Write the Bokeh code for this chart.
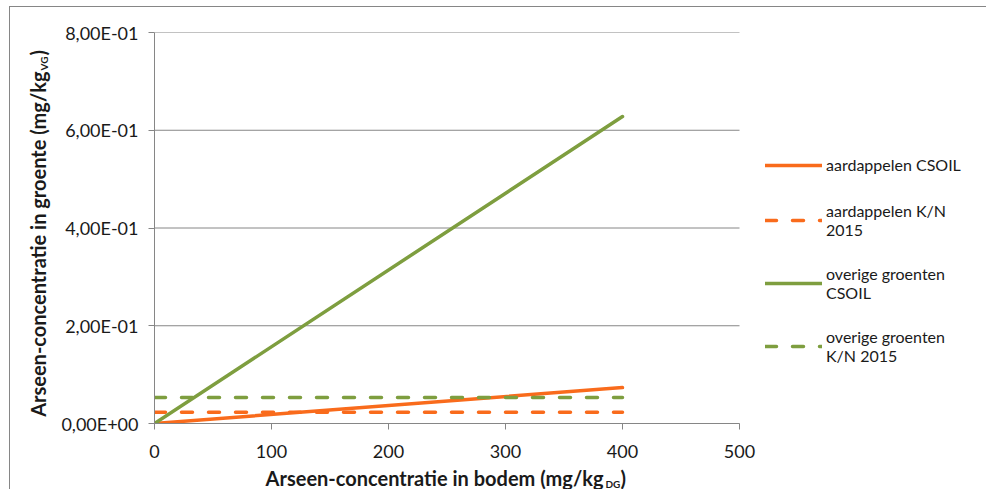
import math
from bokeh.plotting import figure
from bokeh.models import (Range1d, FixedTicker, CustomJSTickFormatter, Legend,
                          LegendItem, Title)
from bokeh.embed import file_html
from bokeh.resources import INLINE

# ---- data ----
bodem = [0, 400]
aardappelen_csoil = [0.0, 0.0735]
aardappelen_kn2015 = [0.023, 0.023]
overige_csoil = [0.0, 0.628]
overige_kn2015 = [0.053, 0.053]

x_ticks = [0, 100, 200, 300, 400, 500]
y_ticks = [0.0, 0.2, 0.4, 0.6, 0.8]

labels = ["aardappelen CSOIL", "aardappelen K/N\n2015",
          "overige groenten\nCSOIL", "overige groenten\nK/N 2015"]

ORANGE = "#F96B1C"
GREEN = "#7E9E3F"
GRID = "#868686"
FONT = "Lato"

# layout (pixels)
W, H = 977, 483
LEFT, TOP, BOTTOM = 144, 25, 67
AXIS_PX = 585                     # pixel length of the 0..500 axis
FRAME_W = W - LEFT                # frame extends to the right edge (legend lives there)
X_MAX = x_ticks[-1]
X_END = X_MAX * FRAME_W / AXIS_PX

p = figure(width=W, height=H, output_backend="svg", toolbar_location=None,
           x_range=Range1d(0, X_END), y_range=Range1d(y_ticks[0], y_ticks[-1]),
           min_border_left=LEFT, min_border_right=0,
           min_border_top=TOP, min_border_bottom=BOTTOM,
           margin=(6, 0, 0, 9),
           styles={"border-top": "1px solid #868686",
                   "border-left": "1px solid #868686"})
p.outline_line_color = None
p.background_fill_color = "white"
p.border_fill_color = "white"

# axes
p.xaxis.ticker = FixedTicker(ticks=x_ticks)
p.xaxis.bounds = (0, X_MAX)
p.yaxis.ticker = FixedTicker(ticks=y_ticks)
p.yaxis.formatter = CustomJSTickFormatter(code="""
    const s = tick.toExponential(2);
    const parts = s.split('e');
    const e = parseInt(parts[1]);
    const sign = e < 0 ? '-' : '+';
    const d = String(Math.abs(e)).padStart(2, '0');
    return parts[0].replace('.', ',') + 'E' + sign + d;
""")
for ax in (p.xaxis[0], p.yaxis[0]):
    ax.axis_line_color = GRID
    ax.major_tick_line_color = GRID
    ax.major_tick_in = 0
    ax.major_tick_out = 6
    ax.minor_tick_line_color = None
    ax.major_label_text_font = FONT
    ax.major_label_text_font_size = "18px"
    ax.major_label_text_color = "#1a1a1a"
    ax.axis_label = None
p.xaxis.major_label_standoff = 15
p.yaxis.major_label_standoff = 10

p.xgrid.grid_line_color = None
p.ygrid.grid_line_color = None
# horizontal gridlines only across the 0..500 axis
p.segment(x0=[0] * len(y_ticks), x1=[X_MAX] * len(y_ticks), y0=y_ticks, y1=y_ticks,
          line_color=GRID, line_width=1)

# series
r1 = p.line(bodem, aardappelen_csoil, line_color=ORANGE, line_width=3.5,
            line_cap="round")
r2 = p.line(bodem, aardappelen_kn2015, line_color=ORANGE, line_width=3.5,
            line_dash="11 16", line_cap="round")
r3 = p.line(bodem, overige_csoil, line_color=GREEN, line_width=3.5,
            line_cap="round")
r4 = p.line(bodem, overige_kn2015, line_color=GREEN, line_width=3.5,
            line_dash="11 16", line_cap="round")

legend = Legend(items=[LegendItem(label=l, renderers=[r])
                       for l, r in zip(labels, [r1, r2, r3, r4])],
                location=(611, 58), orientation="vertical",
                glyph_width=57, glyph_height=20, label_standoff=4,
                label_height=23, spacing=25, padding=0, margin=0,
                border_line_color=None, background_fill_alpha=0,
                label_text_font=FONT, label_text_font_size="16px",
                label_text_color="#1a1a1a")
p.add_layout(legend, "center")

# axis titles with subscripts (as titles in the side panels)
tstyle = dict(text_font=FONT, text_font_style="bold", text_color="#1a1a1a")
p.add_layout(Title(text="DG", align="left", offset=451, standoff=-58,
                   text_font_size="10px", **tstyle), "below")
p.add_layout(Title(text=")", align="left", offset=466, standoff=-58,
                   text_font_size="20px", **tstyle), "below")
p.add_layout(Title(text="Arseen-concentratie in bodem (mg/kg", align="right",
                   offset=FRAME_W - 449, standoff=-58, text_font_size="20px", **tstyle), "below")

p.add_layout(Title(text="Arseen-concentratie in groente (mg/kg", align="right",
                   offset=39, standoff=17, text_font_size="20px", **tstyle), "left")
p.add_layout(Title(text="VG", align="left", offset=353, standoff=-69,
                   text_font_size="10px", **tstyle), "left")
p.add_layout(Title(text=")", align="left", offset=368, standoff=-69,
                   text_font_size="20px", **tstyle), "left")

open("out.html", "w").write(file_html(p, INLINE))
